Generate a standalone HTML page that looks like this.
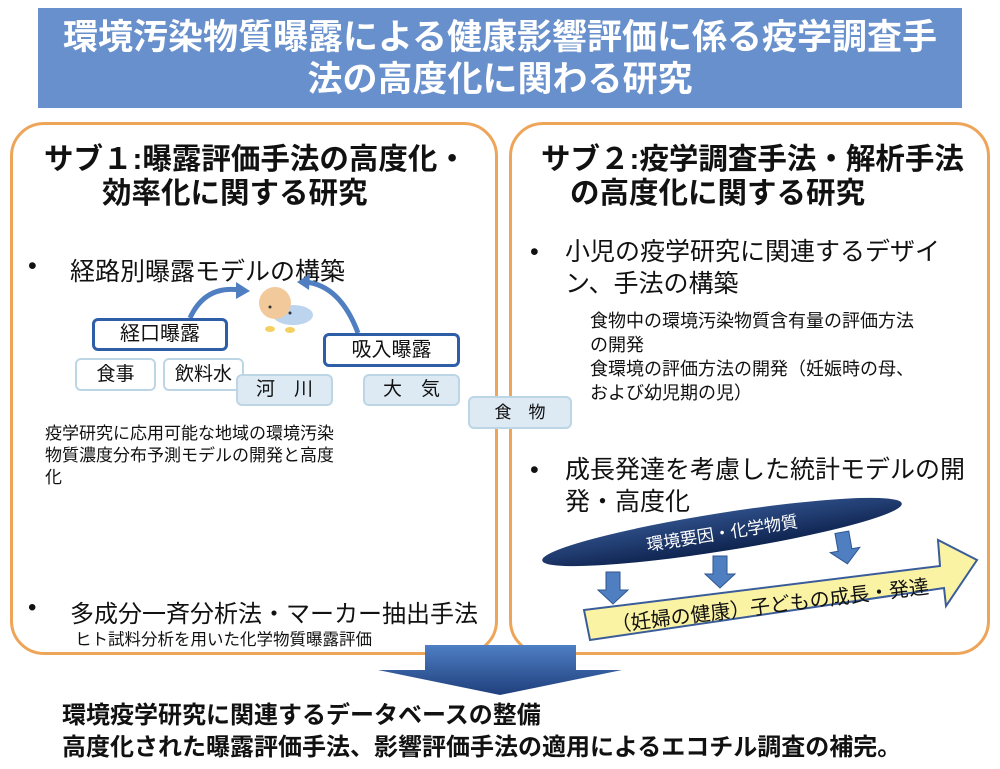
<!DOCTYPE html>
<html><head><meta charset="utf-8"><style>
*{margin:0;padding:0;box-sizing:border-box}
body{width:1000px;height:769px;background:#fff;position:relative;overflow:hidden;font-family:"Liberation Sans","Noto Sans CJK JP",sans-serif;color:#111}
.a{position:absolute;white-space:nowrap}
.box{position:absolute;border:3px solid #eda55a;border-radius:34px;background:#fff}
.b{font-weight:bold}
.lb{position:absolute;text-align:center;font-size:19px;border-radius:6px}
</style></head><body>
<div class="a" style="left:38px;top:8px;width:924px;height:100px;background:#6890cc;color:#fff;font-weight:bold;font-size:35px;line-height:42px;text-align:center;padding-top:9px;white-space:normal">環境汚染物質曝露による健康影響評価に係る疫学調査手<br>法の高度化に関わる研究</div>
<div class="box" style="left:10px;top:122px;width:488px;height:533px"></div>
<div class="box" style="left:509px;top:122px;width:481px;height:533px"></div>

<div class="a b" style="left:44px;top:141px;font-size:29.5px;line-height:38px">サブ１:曝露評価手法の高度化・</div>
<div class="a b" style="left:102px;top:175px;font-size:29.5px;line-height:38px">効率化に関する研究</div>
<div class="a" style="left:28px;top:252px;font-size:25px">•</div>
<div class="a" style="left:70px;top:252px;font-size:25px">経路別曝露モデルの構築</div>

<svg class="a" style="left:0;top:0" width="1000" height="769">
<defs><linearGradient id="g" x1="0" y1="0" x2="0" y2="1"><stop offset="0" stop-color="#2d4d86"/><stop offset="1" stop-color="#0f2450"/></linearGradient>
<linearGradient id="d" x1="0" y1="0" x2="0" y2="1"><stop offset="0" stop-color="#4f7fc4"/><stop offset="1" stop-color="#1f3f7c"/></linearGradient></defs>
<path d="M190 318 Q205 285 240 290" fill="none" stroke="#4f7fc0" stroke-width="5"/>
<path d="M236 282 L250 291 L236 299Z" fill="#4f7fc0"/>
<path d="M358 333 Q340 285 305 282" fill="none" stroke="#4f7fc0" stroke-width="5"/>
<path d="M310 274 L297 282 L309 290Z" fill="#4f7fc0"/>
<ellipse cx="293" cy="315" rx="20" ry="10" fill="#bcd4ee"/>
<circle cx="275" cy="303" r="16" fill="#f2c99a"/>
<ellipse cx="270" cy="329" rx="5" ry="3" fill="#f3d060"/><ellipse cx="290" cy="330" rx="5" ry="3" fill="#f3d060"/>
<circle cx="270" cy="307" r="1.5" fill="#333"/><circle cx="290" cy="313" r="1.5" fill="#333"/>
<g transform="rotate(-9 722 532)">
<ellipse cx="722" cy="532" rx="182" ry="19" fill="url(#g)"/>
<text x="722" y="539" font-size="17" fill="#fff" text-anchor="middle" font-family="Liberation Sans,Noto Sans CJK JP,sans-serif">環境要因・化学物質</text>
</g>
<path d="M584 610 L940 566 L938 540 L977 560 L946 606 L944 588 L590 640Z" fill="#fbf3a4" stroke="#3a5d9a" stroke-width="2"/>
<text x="0" y="0" font-size="20" fill="#111" transform="translate(612 632) rotate(-7)" font-family="Liberation Sans,Noto Sans CJK JP,sans-serif">（妊婦の健康）子どもの成長・発達</text>
<path d="M606 572 h14 v18 h8 l-15 14 l-15 -14 h8z" fill="#4f7fc0" stroke="#2e5590"/>
<path d="M713 556 h14 v18 h8 l-15 14 l-15 -14 h8z" fill="#4f7fc0" stroke="#2e5590"/>
<path d="M838 532 h14 v18 h8 l-15 14 l-15 -14 h8z" fill="#4f7fc0" stroke="#2e5590" transform="rotate(-10 845 550)"/>
<path d="M425 645 H576 V670 H622 L500 695 L378 670 H425Z" fill="url(#d)"/>
</svg>

<div class="lb" style="left:92px;top:318px;width:136px;height:33px;border:3px solid #2f5ea8;line-height:27px;background:#fff;font-size:20px">経口曝露</div>
<div class="lb" style="left:323px;top:333px;width:137px;height:34px;border:3px solid #2f5ea8;line-height:28px;background:#fff;font-size:20px">吸入曝露</div>
<div class="lb" style="left:75px;top:358px;width:81px;height:33px;border:2px solid #bcd6e6;line-height:29px;background:#fff">食事</div>
<div class="lb" style="left:163px;top:358px;width:81px;height:33px;border:2px solid #bcd6e6;line-height:29px;background:#fff">飲料水</div>
<div class="lb" style="left:236px;top:374px;width:97px;height:32px;border:2px solid #bcd6e6;line-height:28px;background:#dde9f3">河　川</div>
<div class="lb" style="left:363px;top:374px;width:97px;height:32px;border:2px solid #bcd6e6;line-height:28px;background:#dde9f3">大　気</div>
<div class="lb" style="left:468px;top:396px;width:104px;height:33px;border:2px solid #bcd6e6;line-height:29px;background:#dde9f3;font-size:17px">食　物</div>

<div class="a" style="left:45px;top:423px;font-size:17px;line-height:22px">疫学研究に応用可能な地域の環境汚染<br>物質濃度分布予測モデルの開発と高度<br>化</div>
<div class="a" style="left:28px;top:594px;font-size:24px">•</div>
<div class="a" style="left:70px;top:594px;font-size:24px">多成分一斉分析法・マーカー抽出手法</div>
<div class="a" style="left:75px;top:626px;font-size:16.5px">ヒト試料分析を用いた化学物質曝露評価</div>

<div class="a b" style="left:541px;top:141px;font-size:29.5px;line-height:38px">サブ２:疫学調査手法・解析手法</div>
<div class="a b" style="left:570px;top:175px;font-size:29.5px;line-height:38px">の高度化に関する研究</div>
<div class="a" style="left:530px;top:236px;font-size:25px;line-height:32px">•</div>
<div class="a" style="left:565px;top:236px;font-size:25px;line-height:32px">小児の疫学研究に関連するデザイ<br>ン、手法の構築</div>
<div class="a" style="left:590px;top:309px;font-size:18px;line-height:24px">食物中の環境汚染物質含有量の評価方法<br>の開発<br>食環境の評価方法の開発（妊娠時の母、<br>および幼児期の児）</div>
<div class="a" style="left:530px;top:454px;font-size:25px;line-height:32px">•</div>
<div class="a" style="left:565px;top:454px;font-size:25px;line-height:32px">成長発達を考慮した統計モデルの開<br>発・高度化</div>

<div class="a b" style="left:62px;top:700px;font-size:24px;line-height:32px">環境疫学研究に関連するデータベースの整備<br>高度化された曝露評価手法、影響評価手法の適用によるエコチル調査の補完。</div>
</body></html>
